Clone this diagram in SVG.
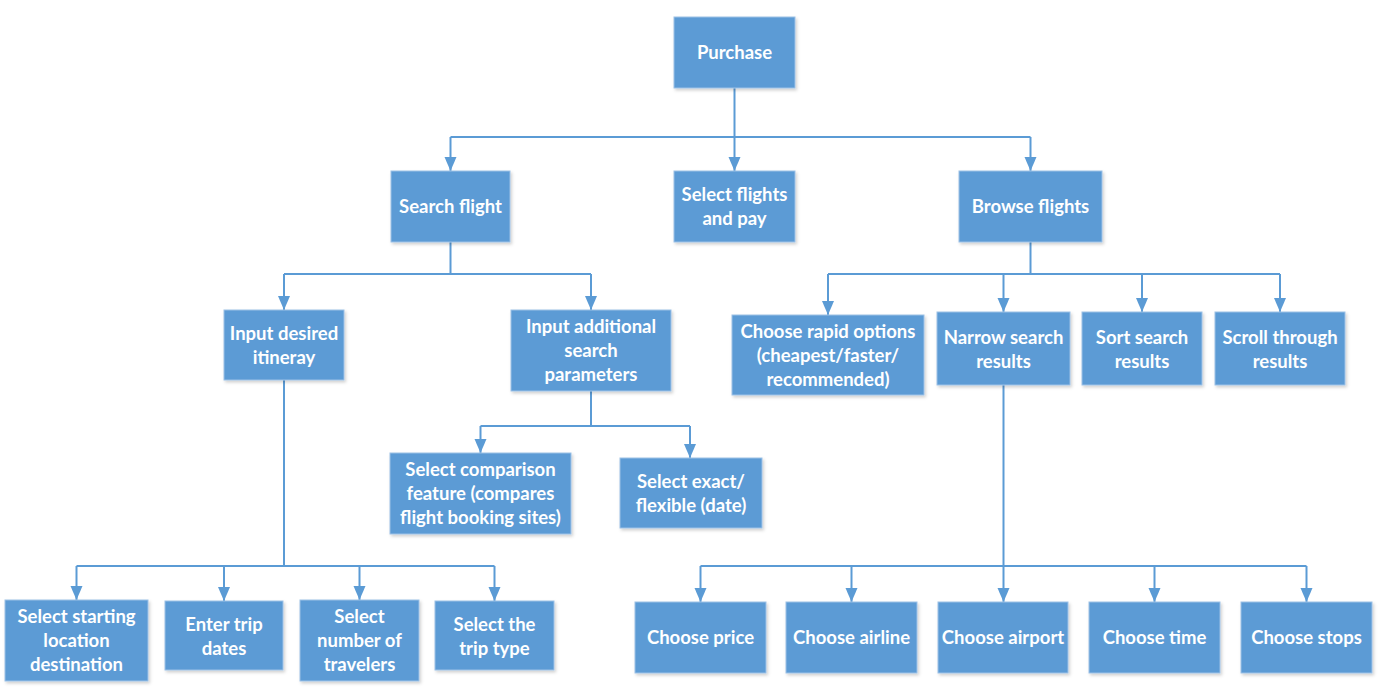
<svg xmlns="http://www.w3.org/2000/svg" width="1380" height="696" viewBox="0 0 1380 696">
<style>
.n rect{fill:#5B9BD5;stroke:#9DC1E6;stroke-width:1;filter:url(#sh)}
.n text{font-family:Lato,"Open Sans","Liberation Sans",sans-serif;font-weight:bold;font-size:18.5px;fill:#ffffff;text-anchor:middle}
.c path{fill:none;stroke:#5B9BD5;stroke-width:2}
.c path.a{marker-end:url(#ar)}
</style>
<defs>
<filter id="sh" x="-10%" y="-10%" width="125%" height="130%">
<feDropShadow dx="1.5" dy="2" stdDeviation="1.5" flood-color="#000" flood-opacity="0.18"/>
</filter>
<marker id="ar" markerUnits="userSpaceOnUse" markerWidth="14" markerHeight="14" viewBox="0 0 14 14" refX="14" refY="7" orient="auto">
<path d="M0,1 L14,7 L0,13 Z" fill="#5B9BD5"/>
</marker>
</defs>
<rect width="1380" height="696" fill="#ffffff"/>
<g class="c" id="connectors">
<path d="M734.5 88 V137"/>
<path d="M450.5 137 H1030.5"/>
<path class="a" d="M450.5 137 V171"/>
<path class="a" d="M734.5 137 V171"/>
<path class="a" d="M1030.5 137 V171"/>
<path d="M450.5 242 V274"/>
<path d="M284 274 H591"/>
<path class="a" d="M284 274 V310"/>
<path class="a" d="M591 274 V310"/>
<path d="M591 391 V426"/>
<path d="M480.5 426 H690"/>
<path class="a" d="M480.5 426 V453"/>
<path class="a" d="M690 426 V458"/>
<path d="M284 380 V566"/>
<path d="M76.5 566 H494.5"/>
<path class="a" d="M76.5 566 V600"/>
<path class="a" d="M224 566 V601"/>
<path class="a" d="M359.5 566 V600"/>
<path class="a" d="M494.5 566 V601"/>
<path d="M1030.5 242 V274"/>
<path d="M828 274 H1280"/>
<path class="a" d="M828 274 V315"/>
<path class="a" d="M1003.5 274 V312"/>
<path class="a" d="M1142 274 V312"/>
<path class="a" d="M1280 274 V312"/>
<path d="M1003.5 385 V566"/>
<path d="M700.5 566 H1306.5"/>
<path class="a" d="M700.5 566 V602"/>
<path class="a" d="M851.5 566 V602"/>
<path class="a" d="M1003.5 566 V602"/>
<path class="a" d="M1154.5 566 V602"/>
<path class="a" d="M1306.5 566 V602"/>
</g>
<g class="n" id="purchase"><rect x="674" y="17" width="121" height="71"/><text x="734.5" y="59">Purchase</text></g>
<g class="n" id="search-flight"><rect x="391" y="171" width="119" height="71"/><text x="450.5" y="213">Search flight</text></g>
<g class="n" id="select-pay"><rect x="674" y="171" width="121" height="71"/><text x="734.5" y="201">Select flights</text><text x="734.5" y="225">and pay</text></g>
<g class="n" id="browse-flights"><rect x="959" y="171" width="143" height="71"/><text x="1030.5" y="213">Browse flights</text></g>
<g class="n" id="input-itinerary"><rect x="224" y="310" width="120" height="70"/><text x="284" y="339.5">Input desired</text><text x="284" y="363.5">itineray</text></g>
<g class="n" id="input-additional"><rect x="511" y="310" width="160" height="81"/><text x="591" y="333">Input additional</text><text x="591" y="357">search</text><text x="591" y="381">parameters</text></g>
<g class="n" id="comparison"><rect x="390" y="453" width="181" height="81"/><text x="480.5" y="476">Select comparison</text><text x="480.5" y="500">feature (compares</text><text x="480.5" y="524">flight booking sites)</text></g>
<g class="n" id="exact-flexible"><rect x="620" y="458" width="142" height="70"/><text x="691" y="487.5">Select exact/</text><text x="691" y="511.5">flexible (date)</text></g>
<g class="n" id="rapid-options"><rect x="732" y="315" width="192" height="80"/><text x="828" y="337.5">Choose rapid options</text><text x="828" y="361.5">(cheapest/faster/</text><text x="828" y="385.5">recommended)</text></g>
<g class="n" id="narrow-results"><rect x="937" y="312" width="133" height="73"/><text x="1003.5" y="344">Narrow search</text><text x="1003.5" y="368">results</text></g>
<g class="n" id="sort-results"><rect x="1082" y="312" width="120" height="73"/><text x="1142" y="344">Sort search</text><text x="1142" y="368">results</text></g>
<g class="n" id="scroll-results"><rect x="1215" y="312" width="130" height="73"/><text x="1280" y="344">Scroll through</text><text x="1280" y="368">results</text></g>
<g class="n" id="starting-location"><rect x="5" y="600" width="143" height="81"/><text x="76.5" y="623">Select starting</text><text x="76.5" y="647">location</text><text x="76.5" y="671">destination</text></g>
<g class="n" id="trip-dates"><rect x="165" y="601" width="118" height="69"/><text x="224" y="631">Enter trip</text><text x="224" y="655">dates</text></g>
<g class="n" id="travelers"><rect x="300" y="600" width="119" height="81"/><text x="359.5" y="623">Select</text><text x="359.5" y="647">number of</text><text x="359.5" y="671">travelers</text></g>
<g class="n" id="trip-type"><rect x="435" y="601" width="119" height="69"/><text x="494.5" y="631">Select the</text><text x="494.5" y="655">trip type</text></g>
<g class="n" id="choose-price"><rect x="635" y="602" width="131" height="71"/><text x="700.5" y="644">Choose price</text></g>
<g class="n" id="choose-airline"><rect x="786" y="602" width="131" height="71"/><text x="851.5" y="644">Choose airline</text></g>
<g class="n" id="choose-airport"><rect x="938" y="602" width="130" height="71"/><text x="1003" y="644">Choose airport</text></g>
<g class="n" id="choose-time"><rect x="1089" y="602" width="131" height="71"/><text x="1154.5" y="644">Choose time</text></g>
<g class="n" id="choose-stops"><rect x="1241" y="602" width="131" height="71"/><text x="1306.5" y="644">Choose stops</text></g>
</svg>
